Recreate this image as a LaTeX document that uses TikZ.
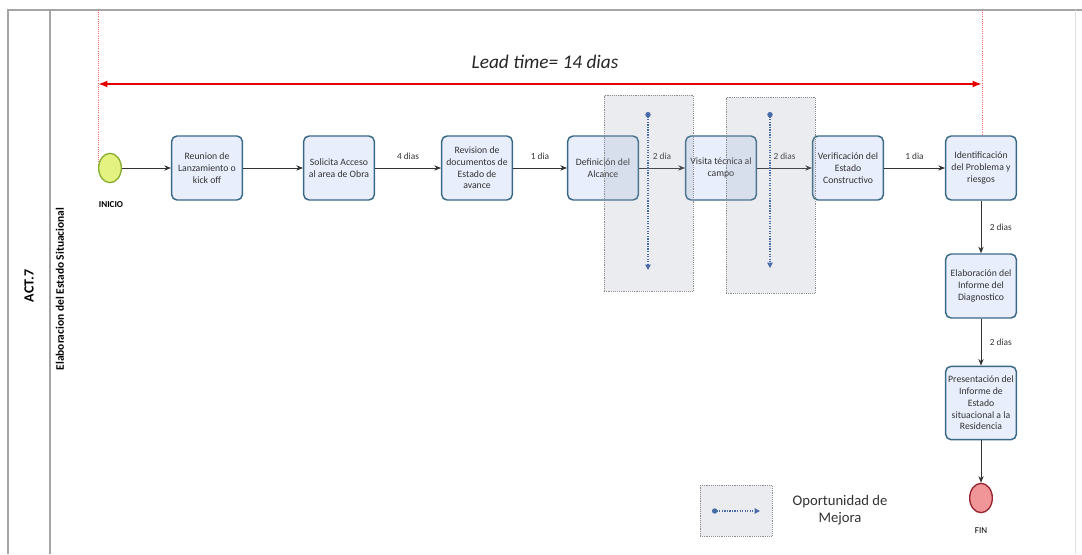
\documentclass[tikz,border=0pt]{standalone}
\usepackage{fontspec}
\setmainfont{Carlito}
\usetikzlibrary{positioning,arrows.meta,calc,shapes.geometric}
\definecolor{tareaBorde}{RGB}{58,105,135}
\definecolor{tareaFondo}{RGB}{232,238,251}
\definecolor{inicioFondo}{RGB}{228,242,130}
\definecolor{inicioBorde}{RGB}{135,175,45}
\definecolor{finFondo}{RGB}{240,150,152}
\definecolor{finBorde}{RGB}{150,35,45}
\definecolor{mejoraColor}{RGB}{72,108,168}
\definecolor{mejoraFondo}{RGB}{150,160,178}
\definecolor{carril}{RGB}{165,165,165}
\tikzset{
    tarea/.style={
        rectangle,
        rounded corners=4pt,
        draw=tareaBorde,
        line width=1.1pt,
        fill=tareaFondo,
        minimum width=53pt,
        minimum height=48pt,
        inner sep=1pt,
        align=center,
        text=black!80,
        font=\fontsize{7.3}{8.8}\selectfont
    },
    evento/.style={
        ellipse,
        line width=1pt,
        minimum width=17pt,
        minimum height=22pt,
        inner sep=0pt
    },
    flujo/.style={
        -{Stealth[length=5pt,width=4pt]},
        line width=0.6pt,
        black!80
    },
    dias/.style={font=\fontsize{7}{8}\selectfont, text=black!80},
    mejora/.style={
        draw=black!45,
        densely dotted,
        fill=mejoraFondo,
        fill opacity=0.2
    },
    oportunidad/.style={
        {Circle[length=4pt]}-{Triangle[length=4pt,width=4pt]},
        densely dotted,
        line width=0.9pt,
        mejoraColor
    }
}

\begin{document}
\begin{tikzpicture}[x=0.75pt, y=-0.75pt]
    \useasboundingbox (0,0) rectangle (1082,554);

    % 1. Carril de la actividad
    \draw[carril, line width=1.2pt] (8,554) -- (8,10) -- (1082,10);
    \draw[carril, line width=1.2pt] (50,10) -- (50,554);
    \draw[black!12, line width=0.6pt] (1075,10) -- (1075,554);
    \node[rotate=90, font=\bfseries\fontsize{10.5}{12}\selectfont] (act) at (29,286) {ACT.7};
    \node[rotate=90, font=\bfseries\fontsize{8.6}{10}\selectfont] (lane) at (60,289) {Elaboracion del Estado Situacional};

    % 2. Lead time
    \coordinate (lt1) at (98,84);
    \coordinate (lt2) at (982,84);
    \draw[red!60, densely dotted, line width=0.6pt] (98,10) -- (98,170);
    \draw[red!60, densely dotted, line width=0.6pt] (982,10) -- (982,160);
    \draw[{Latex[length=7pt]}-{Latex[length=7pt]}, red!90!black, line width=1.8pt] (lt1) -- (lt2);
    \node[font=\itshape\fontsize{14.5}{17}\selectfont, text=black!85] (lead) at (545,62) {Lead time= 14 dias};

    % 3. Eventos y tareas
    \node[evento, draw=inicioBorde, fill=inicioFondo] (inicio) at (110,168) {};
    \node[font=\bfseries\fontsize{6.8}{8}\selectfont] (inicioTxt) at (111,205) {INICIO};
    \node[tarea] (t1) at (207,168) {Reunion de\\Lanzamiento o\\kick off};
    \node[tarea] (t2) at (339,168) {Solicita Acceso\\al area de Obra};
    \node[tarea] (t3) at (477,168) {Revision de\\documentos de\\Estado de\\avance};
    \node[tarea] (t4) at (603,168) {Definición del\\Alcance};
    \node[tarea] (t5) at (721,168) {Visita técnica al\\campo};
    \node[tarea] (t6) at (848,168) {Verificación del\\Estado\\Constructivo};
    \node[tarea] (t7) at (981,168) {Identificación\\del Problema y\\riesgos};
    \node[tarea] (t8) at (981,286) {Elaboración del\\Informe del\\Diagnostico};
    \node[tarea, minimum height=55pt] (t9) at (981,403) {Presentación del\\Informe de\\Estado\\situacional a la\\Residencia};
    \node[evento, draw=finBorde, fill=finFondo] (fin) at (981,498) {};
    \node[font=\fontsize{6.8}{8}\selectfont] (finTxt) at (981,531) {FIN};

    % 4. Flujo
    \draw[flujo] (inicio) -- (t1);
    \draw[flujo] (t1) -- (t2);
    \draw[flujo] (t2) -- node[dias, above=3pt]{4 dias} (t3);
    \draw[flujo] (t3) -- node[dias, above=3pt]{1 dia} (t4);
    \draw[flujo] (t4) -- node[dias, above=3pt]{2 dia} (t5);
    \draw[flujo] (t5) -- node[dias, above=3pt]{2 dias} (t6);
    \draw[flujo] (t6) -- node[dias, above=3pt]{1 dia} (t7);
    \draw[flujo] (t7) -- node[dias, right=3pt]{2 dias} (t8);
    \draw[flujo] (t8) -- node[dias, right=3pt]{2 dias} (t9);
    \draw[flujo] (t9) -- (fin);

    % 5. Oportunidades de mejora
    \node[mejora, minimum width=67pt, minimum height=147pt] (m1) at (648.5,193) {};
    \node[mejora, minimum width=67pt, minimum height=147pt] (m2) at (770.5,195) {};
    \coordinate (m1a) at (648,112);
    \coordinate (m1b) at (648,270);
    \coordinate (m2a) at (770,112);
    \coordinate (m2b) at (770,268);
    \draw[oportunidad] (m1a) -- (m1b);
    \draw[oportunidad] (m2a) -- (m2b);

    % 6. Leyenda
    \node[mejora, minimum width=54pt, minimum height=38pt] (ley) at (736,510.5) {};
    \coordinate (leyA) at (712,511);
    \coordinate (leyB) at (760,511);
    \draw[oportunidad] (leyA) -- (leyB);
    \node[font=\fontsize{11}{13}\selectfont, align=center, text=black!80] (leyTxt) at (840,510) {Oportunidad de\\Mejora};
\end{tikzpicture}
\end{document}
